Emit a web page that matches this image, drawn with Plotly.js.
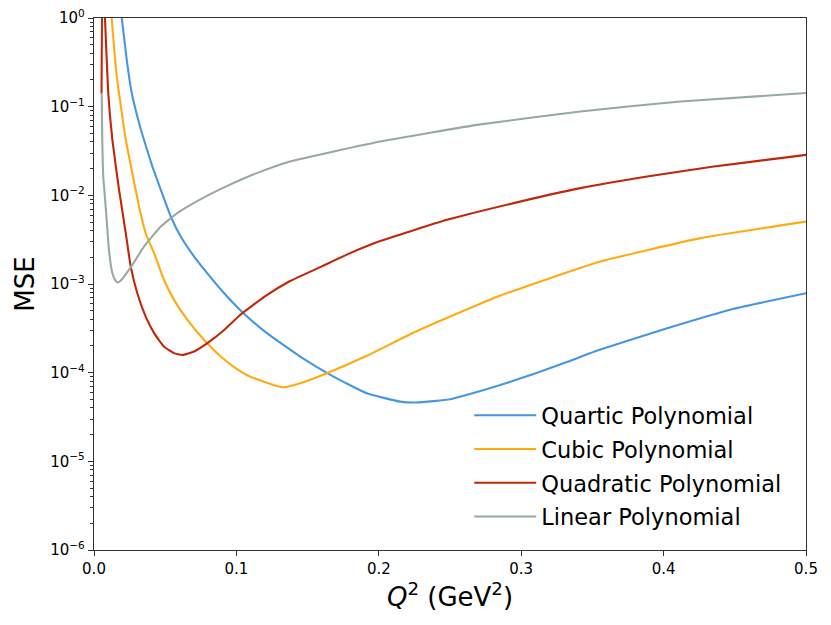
<!DOCTYPE html>
<html>
<head>
<meta charset="utf-8">
<script src="https://cdn.plot.ly/plotly-3.0.1.min.js"></script>
<style>
  html, body { margin: 0; padding: 0; background: #fff; }
  #chart { width: 831px; height: 625px; }
</style>
</head>
<body>
<div id="chart"></div>
<script>
// Quartic polynomial fit (MSE vs Q^2)
var quarticX = [0.0195, 0.0230, 0.0265, 0.0323, 0.0351, 0.0410, 0.0469, 0.0539, 0.0609, 0.0703,
                0.0796, 0.0914, 0.1050, 0.1214, 0.1448, 0.1682, 0.1916, 0.2150, 0.2268, 0.2502,
                0.2621, 0.2853, 0.3087, 0.3321, 0.3556, 0.4025, 0.4493, 0.5];
var quarticY = [1.0, 0.338, 0.1425, 0.0598, 0.0423, 0.0211, 0.01154, 0.00577, 0.00343, 0.00204,
                0.00132, 0.000787, 0.000468, 0.000279, 0.000152, 0.0000902, 0.0000585, 0.0000471, 0.0000461, 0.0000501,
                0.0000562, 0.0000724, 0.0000966, 0.000132, 0.000182, 0.000316, 0.000525, 0.000787];

// Cubic polynomial fit
var cubicX = [0.0110, 0.0124, 0.0160, 0.0223, 0.0269, 0.0316, 0.0363, 0.0422, 0.0492, 0.0562,
              0.0656, 0.0773, 0.0890, 0.0979, 0.1096, 0.1260, 0.1330, 0.1448, 0.1635, 0.1916,
              0.2268, 0.2853, 0.3556, 0.4259, 0.5];
var cubicY = [2.0, 1.0, 0.219, 0.0423, 0.0178, 0.00748, 0.00374, 0.00223, 0.00111, 0.000662,
              0.000394, 0.000234, 0.000152, 0.000117, 0.0000902, 0.0000727, 0.0000684, 0.0000759, 0.0000985, 0.000155,
              0.000295, 0.000741, 0.00179, 0.00329, 0.00506];

// Quadratic polynomial fit
var quadX = [0.0053, 0.0060, 0.0077, 0.0100, 0.0129, 0.0176, 0.0223, 0.0258, 0.0304, 0.0363,
             0.0422, 0.0492, 0.0562, 0.0621, 0.0703, 0.0796, 0.0914, 0.1026, 0.1200, 0.1377,
             0.1600, 0.1799, 0.2010, 0.2479, 0.2947, 0.3415, 0.3884, 0.4352, 0.4821, 0.5];
var quadY = [0.142, 4.0, 1.0, 0.1425, 0.0423, 0.01154, 0.00374, 0.00157, 0.000787, 0.000429,
             0.000279, 0.000196, 0.000166, 0.000158, 0.000173, 0.000215, 0.000303, 0.000447, 0.000724, 0.00108,
             0.00158, 0.00223, 0.00305, 0.00529, 0.00817, 0.01205, 0.0163, 0.0211, 0.0263, 0.0286];

// Linear polynomial fit
var linX = [0.0054, 0.0058, 0.0065, 0.0082, 0.0105, 0.0129, 0.0150, 0.0169, 0.0190, 0.0211,
            0.0269, 0.0351, 0.0469, 0.0585, 0.0675, 0.0800, 0.0914, 0.1143, 0.1377, 0.2010,
            0.2713, 0.3415, 0.4118, 0.5];
var linY = [0.1425, 0.0423, 0.0163, 0.00748, 0.00243, 0.00132, 0.00110, 0.00104, 0.00110, 0.00121,
            0.00164, 0.00264, 0.00445, 0.00631, 0.00776, 0.0100, 0.0123, 0.0178, 0.0241, 0.0405,
            0.0631, 0.0883, 0.1145, 0.1425];

// Axis ticks
var xTicks = [0.0, 0.1, 0.2, 0.3, 0.4, 0.5];
var xTickText = ['0.0', '0.1', '0.2', '0.3', '0.4', '0.5'];
var yTicks = [1e-6, 1e-5, 1e-4, 1e-3, 1e-2, 1e-1, 1];
var yTickText = ['10<sup>\u22126</sup>', '10<sup>\u22125</sup>', '10<sup>\u22124</sup>',
                 '10<sup>\u22123</sup>', '10<sup>\u22122</sup>', '10<sup>\u22121</sup>', '10<sup>0</sup>'];

var names = ['Quartic Polynomial', 'Cubic Polynomial', 'Quadratic Polynomial', 'Linear Polynomial'];
var colors = ['#4796e2', '#ffaa11', '#c0270a', '#98a8a6'];

// Minor ticks on the log axis (2..9 in each decade)
var yMinor = [];
for (var e = -6; e < 0; e++) {
    for (var m = 2; m <= 9; m++) {
        yMinor.push(m * Math.pow(10, e));
    }
}

var series = [[quarticX, quarticY], [cubicX, cubicY], [quadX, quadY], [linX, linY]];
var data = [];
for (var i = 0; i < series.length; i++) {
    data.push({
        x: series[i][0],
        y: series[i][1],
        type: 'scatter',
        mode: 'lines',
        name: names[i],
        legendgroup: 'g' + i,
        line: {color: colors[i], width: 2.1, shape: 'spline', smoothing: 0.4}
    });
}

var axisFont = {family: 'DejaVu Sans', size: 15, color: '#000'};

var layout = {
    width: 831,
    height: 625,
    margin: {l: 94, r: 24.5, t: 18, b: 75},
    paper_bgcolor: '#fff',
    plot_bgcolor: '#fff',
    showlegend: true,
    font: {family: 'DejaVu Sans', color: '#000'},
    xaxis: {
        range: [0, 0.5],
        tickmode: 'array',
        tickvals: xTicks,
        ticktext: xTickText,
        ticks: 'outside',
        ticklen: 5,
        tickwidth: 1,
        tickcolor: '#333',
        tickfont: axisFont,
        showgrid: false,
        zeroline: false,
        showline: true,
        linecolor: '#333',
        linewidth: 1.2,
        mirror: true,
        title: {text: '<i>Q</i><sup>2</sup> (GeV<sup>2</sup>)', font: {family: 'DejaVu Sans', size: 26}, standoff: 8}
    },
    yaxis: {
        type: 'log',
        range: [-6, 0],
        tickmode: 'array',
        tickvals: yTicks,
        ticktext: yTickText,
        ticks: 'outside',
        ticklen: 5,
        tickwidth: 1,
        tickcolor: '#333',
        tickfont: axisFont,
        showgrid: false,
        zeroline: false,
        showline: true,
        linecolor: '#333',
        linewidth: 1.2,
        mirror: true,
        minor: {tickmode: 'array', tickvals: yMinor, ticks: 'outside', ticklen: 2.5, tickcolor: '#333', showgrid: false},
        title: {text: 'MSE', font: {family: 'DejaVu Sans', size: 26}, standoff: 8}
    },
    legend: {
        x: 0.527,
        y: 0.293,
        xanchor: 'left',
        yanchor: 'top',
        bgcolor: 'rgba(255,255,255,0)',
        borderwidth: 0,
        traceorder: 'grouped',
        tracegroupgap: 1.5,
        itemwidth: 62,
        font: {family: 'DejaVu Sans', size: 22.5, color: '#000'}
    }
};

Plotly.newPlot('chart', data, layout, {displayModeBar: false, staticPlot: true});
</script>
</body>
</html>
